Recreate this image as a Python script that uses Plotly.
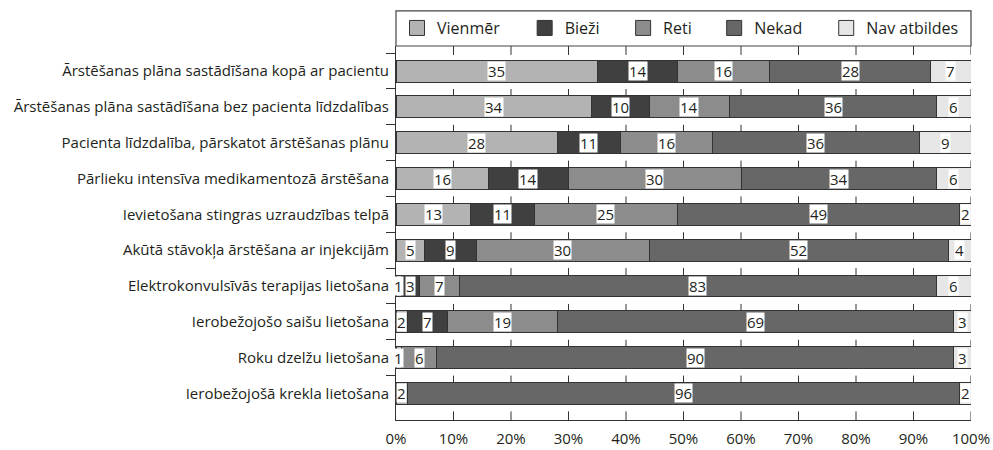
import plotly.graph_objects as go

# Survey items (top to bottom)
categories = [
    "Ārstēšanas plāna sastādīšana kopā ar pacientu",
    "Ārstēšanas plāna sastādīšana bez pacienta līdzdalības",
    "Pacienta līdzdalība, pārskatot ārstēšanas plānu",
    "Pārlieku intensīva medikamentozā ārstēšana",
    "Ievietošana stingras uzraudzības telpā",
    "Akūtā stāvokļa ārstēšana ar injekcijām",
    "Elektrokonvulsīvās terapijas lietošana",
    "Ierobežojošo saišu lietošana",
    "Roku dzelžu lietošana",
    "Ierobežojošā krekla lietošana",
]

series_names = ["Vienmēr", "Bieži", "Reti", "Nekad", "Nav atbildes"]

vienmer = [35, 34, 28, 16, 13, 5, 1, 2, 1, 2]
biezi = [14, 10, 11, 14, 11, 9, 3, 7, 0, 0]
reti = [16, 14, 16, 30, 25, 30, 7, 19, 6, 0]
nekad = [28, 36, 36, 34, 49, 52, 83, 69, 90, 96]
nav_atbildes = [7, 6, 9, 6, 2, 4, 6, 3, 3, 2]

series_values = [vienmer, biezi, reti, nekad, nav_atbildes]
colors = ["#b3b3b3", "#404040", "#8c8c8c", "#676767", "#e6e6e6"]

x_ticks = list(range(0, 101, 10))
x_tick_labels = [f"{t}%" for t in x_ticks]

FONT = "Open Sans"
TXT = "#231f20"
EDGE = "#333333"

fig = go.Figure()

for name, vals, col in zip(series_names, series_values, colors):
    fig.add_trace(go.Bar(
        y=categories,
        x=[v if v else None for v in vals],
        orientation="h",
        name=name,
        marker=dict(color=col, line=dict(color=EDGE, width=1)),
        showlegend=False,
        hoverinfo="x+y+name",
    ))

# Value labels in white boxes at the centre of each segment
annotations = []
for i, cat in enumerate(categories):
    cum = 0
    for vals in series_values:
        v = vals[i]
        if v:
            annotations.append(dict(
                x=cum + v / 2, y=cat, xref="x", yref="y",
                text=str(v), showarrow=False,
                bgcolor="white", borderpad=0, height=18, valign="middle",
                font=dict(family=FONT, size=15, color=TXT),
            ))
        cum += v

# Legend entries, each in its own legend so they can be placed freely
legend_centers = [417, 544.6, 643, 734, 846]
plot_left, plot_right = 396, 970.7
legend_layouts = {}
for k, (name, col, cx) in enumerate(zip(series_names, colors, legend_centers)):
    key = "legend" if k == 0 else f"legend{k + 1}"
    fig.add_trace(go.Scatter(
        x=[None], y=[None], mode="markers", name=name,
        marker=dict(symbol="square", size=15, color=col, line=dict(color=EDGE, width=1)),
        legend=key, showlegend=True,
    ))
    legend_layouts[key] = dict(
        x=(cx - 20 - plot_left) / (plot_right - plot_left),
        y=1.048, xanchor="left", yanchor="middle",
        orientation="h", bgcolor="rgba(0,0,0,0)", borderwidth=0,
        font=dict(family=FONT, size=16, color=TXT),
        itemsizing="trace",
    )

# Short grid segments visible in the gaps between bars (and above the axis)
shapes = []
half_bar = 0.305
n = len(categories)
for xv in x_ticks[1:]:
    spans = [(-0.7, -0.45)] + [(k - 0.5, k - half_bar) for k in range(1, n)] + [(n - 0.5, n - 0.26)]
    for y0, y1 in spans:
        shapes.append(dict(type="line", xref="x", yref="y", x0=xv, x1=xv,
                           y0=y0, y1=y1, line=dict(color=EDGE, width=1), layer="below"))

# Frame around the legend row
shapes.append(dict(type="rect", xref="paper", yref="paper",
                   x0=0, x1=1, y0=1.0, y1=1.094,
                   line=dict(color="#444444", width=1.2), fillcolor="rgba(0,0,0,0)"))

fig.update_layout(
    width=993, height=450,
    margin=dict(l=396, r=22, t=46, b=30, autoexpand=False),
    barmode="stack", bargap=0.39,
    plot_bgcolor="white", paper_bgcolor="white",
    font=dict(family=FONT, size=15, color=TXT),
    annotations=annotations,
    shapes=shapes,
    **legend_layouts,
)

# Tick marks are drawn as shapes above; the axis ticks only space the labels
fig.update_xaxes(
    range=[0, 100], tickvals=x_ticks, ticktext=x_tick_labels,
    showgrid=False, zeroline=False, automargin=False,
    showline=True, linecolor=EDGE, linewidth=1,
    ticks="outside", ticklen=5, tickcolor="rgba(0,0,0,0)",
    tickfont=dict(family=FONT, size=15, color=TXT),
)

fig.update_yaxes(
    type="category", categoryorder="array", categoryarray=categories,
    range=[9.74, -0.7], automargin=False,
    showgrid=False, zeroline=False,
    showline=True, linecolor=EDGE, linewidth=1,
    ticks="outside", ticklen=9, tickcolor=EDGE, tickwidth=1,
    tickson="boundaries", ticklabelstandoff=3,
    tickfont=dict(family=FONT, size=15, color=TXT),
)

fig.write_html("out.html")
